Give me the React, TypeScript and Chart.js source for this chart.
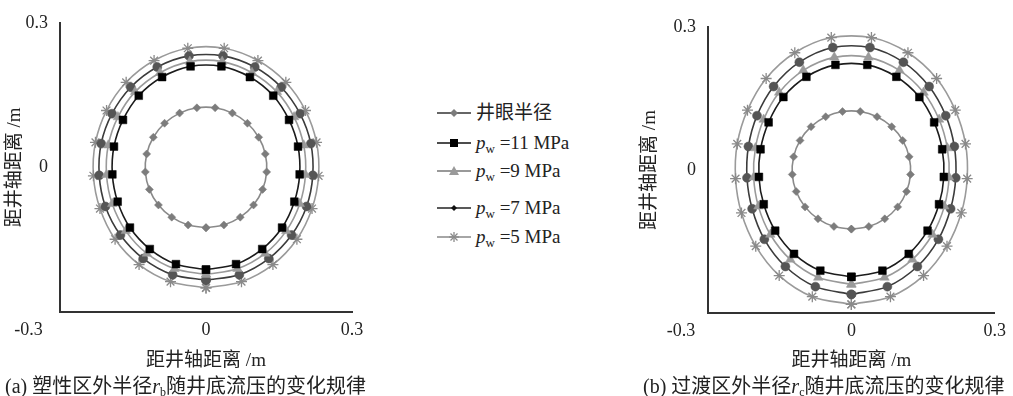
import React, { useEffect, useRef } from "react";
import { Chart, registerables } from "chart.js";

Chart.register(...registerables);

// ---------- data ----------
// angle of each sampled point, measured from the bottom of the hole (deg)
const ANGLES_DEG = [0, 17.1, 34.3, 51.4, 68.6, 85.7, 102.9, 120, 137.1, 154.3, 171.4, 188.6, 205.7, 222.9, 240, 257.1, 274.3, 291.4, 308.6, 325.7, 342.9, 360];

// (a) plastic zone outer radius r_b (m)
const A_BORE = [0.125, 0.125, 0.125, 0.125, 0.125, 0.125, 0.125, 0.125, 0.125, 0.125, 0.125, 0.125, 0.125, 0.125, 0.125, 0.125, 0.125, 0.125, 0.125, 0.125, 0.125, 0.125];
const A_P11 = [0.212, 0.21, 0.205, 0.2, 0.195, 0.193, 0.194, 0.197, 0.203, 0.208, 0.212, 0.212, 0.208, 0.203, 0.197, 0.194, 0.193, 0.195, 0.2, 0.205, 0.21, 0.212];
const A_P9 = [0.222, 0.22, 0.216, 0.211, 0.207, 0.205, 0.206, 0.209, 0.214, 0.218, 0.222, 0.222, 0.218, 0.214, 0.209, 0.206, 0.205, 0.207, 0.211, 0.216, 0.22, 0.222];
const A_P7 = [0.234, 0.233, 0.229, 0.225, 0.222, 0.22, 0.221, 0.223, 0.227, 0.231, 0.234, 0.234, 0.231, 0.227, 0.223, 0.221, 0.22, 0.222, 0.225, 0.229, 0.233, 0.234];
const A_P5 = [0.25, 0.248, 0.244, 0.239, 0.234, 0.232, 0.233, 0.236, 0.241, 0.246, 0.25, 0.25, 0.246, 0.241, 0.236, 0.233, 0.232, 0.234, 0.239, 0.244, 0.248, 0.25];

// (b) transition zone outer radius r_c (m)
const B_BORE = [0.124, 0.124, 0.124, 0.124, 0.124, 0.124, 0.124, 0.124, 0.124, 0.124, 0.124, 0.124, 0.124, 0.124, 0.124, 0.124, 0.124, 0.124, 0.124, 0.124, 0.124, 0.124];
const B_P11 = [0.224, 0.221, 0.213, 0.204, 0.197, 0.194, 0.195, 0.2, 0.209, 0.217, 0.223, 0.223, 0.217, 0.209, 0.2, 0.195, 0.194, 0.197, 0.204, 0.213, 0.221, 0.224];
const B_P9 = [0.24, 0.236, 0.227, 0.217, 0.209, 0.205, 0.206, 0.212, 0.222, 0.232, 0.239, 0.239, 0.232, 0.222, 0.212, 0.206, 0.205, 0.209, 0.217, 0.227, 0.236, 0.24];
const B_P7 = [0.261, 0.256, 0.245, 0.233, 0.223, 0.219, 0.221, 0.228, 0.239, 0.251, 0.26, 0.26, 0.251, 0.239, 0.228, 0.221, 0.219, 0.223, 0.233, 0.245, 0.256, 0.261];
const B_P5 = [0.282, 0.278, 0.268, 0.256, 0.247, 0.243, 0.245, 0.251, 0.262, 0.273, 0.281, 0.281, 0.273, 0.262, 0.251, 0.245, 0.243, 0.247, 0.256, 0.268, 0.278, 0.282];

const SERIES_NAMES = ["井眼半径", "pw=11 MPa", "pw=9 MPa", "pw=7 MPa", "pw=5 MPa"];
const LEGEND_VALUES = ["=11 MPa", "=9 MPa", "=7 MPa", "=5 MPa"];
const TICK_VALUES = [-0.3, 0, 0.3];
const AXIS_MIN = -0.3;
const AXIS_MAX = 0.3;
const AXIS_TITLE = "距井轴距离 /m";

// ---------- styles ----------
const FONT = "'Liberation Serif', 'Times New Roman', 'Noto Sans CJK SC', serif";

const STYLES = [
  { line: "#8a8a8a", fill: "#7c7c7c", point: "rectRot", radius: 4 },
  { line: "#1c1c1c", fill: "#000000", point: "rect", radius: 5.5 },
  { line: "#9a9a9a", fill: "#9a9a9a", point: "triangle", radius: 5.5 },
  { line: "#3c3c3c", fill: "#555555", point: "circle", radius: 4.5 },
  { line: "#9a9a9a", fill: "#8a8a8a", point: "star", radius: 5.5 },
];

function toXY(radii: number[]) {
  return radii.map((r, i) => {
    const t = (ANGLES_DEG[i] * Math.PI) / 180;
    return { x: r * Math.sin(t), y: -r * Math.cos(t) };
  });
}

const fmt = (v: number) => (Math.abs(v) < 1e-9 ? "0" : String(Math.round(v * 10) / 10));

type PanelCfg = {
  left: number;
  width: number;
  yWidth: number;
  xHeight: number;
  padRight: number;
  padTop: number;
  yTitlePad: number;
  minusShift: number;
  series: number[][];
};

const PANEL_A: PanelCfg = {
  left: 0,
  width: 380,
  yWidth: 60,
  xHeight: 84,
  padRight: 28,
  padTop: 19,
  yTitlePad: 4,
  minusShift: 14,
  series: [A_BORE, A_P11, A_P9, A_P7, A_P5],
};

const PANEL_B: PanelCfg = {
  left: 630,
  width: 383,
  yWidth: 78,
  xHeight: 83,
  padRight: 11,
  padTop: 27,
  yTitlePad: 9,
  minusShift: 12,
  series: [B_BORE, B_P11, B_P9, B_P7, B_P5],
};

function Panel({ cfg }: { cfg: PanelCfg }) {
  const ref = useRef<HTMLCanvasElement>(null);
  useEffect(() => {
    const datasets = cfg.series.map((radii, i) => {
      const s = STYLES[i];
      return {
        label: SERIES_NAMES[i],
        data: toXY(radii),
        showLine: true,
        fill: false,
        tension: 0.3,
        borderColor: s.line,
        borderWidth: 1.6,
        pointStyle: s.point as any,
        pointRadius: s.radius,
        pointBackgroundColor: s.fill,
        pointBorderColor: s.fill,
        pointBorderWidth: s.point === "star" ? 1.3 : 0.5,
      };
    });
    const tickFont = { family: FONT, size: 18 };
    const titleFont = { family: FONT, size: 19 };
    const chart = new Chart(ref.current!, {
      type: "scatter",
      data: { datasets },
      options: {
        animation: false,
        responsive: false,
        maintainAspectRatio: false,
        layout: { padding: { left: 0, right: cfg.padRight, top: cfg.padTop, bottom: 0 } },
        plugins: { legend: { display: false }, tooltip: { enabled: false } },
        scales: {
          x: {
            type: "linear",
            min: AXIS_MIN,
            max: AXIS_MAX,
            afterBuildTicks: (s: any) => {
              s.ticks = TICK_VALUES.map((v) => ({ value: v }));
            },
            afterFit: (s: any) => {
              s.height = cfg.xHeight;
            },
            grid: { display: false, drawTicks: false },
            border: { display: true, color: "#333", width: 2 },
            ticks: {
              padding: 7,
              autoSkip: false,
              maxRotation: 0,
              minRotation: 0,
              color: "#222",
              font: tickFont,
              callback: (v: any) => (v < -0.29 ? fmt(v) + " ".repeat(cfg.minusShift) : fmt(v)),
            },
            title: {
              display: true,
              text: AXIS_TITLE,
              color: "#222",
              font: titleFont,
              padding: { top: 0, bottom: 24 },
            },
          },
          y: {
            type: "linear",
            min: AXIS_MIN,
            max: AXIS_MAX,
            afterBuildTicks: (s: any) => {
              s.ticks = TICK_VALUES.map((v) => ({ value: v }));
            },
            afterFit: (s: any) => {
              s.width = cfg.yWidth;
            },
            grid: { display: false, drawTicks: false },
            border: { display: true, color: "#333", width: 2 },
            ticks: {
              padding: 12,
              autoSkip: false,
              color: "#222",
              font: tickFont,
              callback: (v: any) => (v < -0.29 ? "" : fmt(v)),
            },
            title: {
              display: true,
              text: AXIS_TITLE,
              color: "#222",
              font: titleFont,
              padding: { top: cfg.yTitlePad, bottom: 0 },
            },
          },
        },
      } as any,
    });
    return () => chart.destroy();
  }, [cfg]);
  return (
    <canvas
      ref={ref}
      width={cfg.width}
      height={396}
      style={{ position: "absolute", left: cfg.left, top: 0, width: cfg.width, height: 396 }}
    />
  );
}

function LegendMarker({ idx }: { idx: number }) {
  const lineColors = ["#333", "#111", "#777", "#222", "#888"];
  const c = 17;
  const m = 8;
  let marker: React.ReactNode = null;
  if (idx === 0) marker = <polygon points={`${c},${m - 4} ${c + 4},${m} ${c},${m + 4} ${c - 4},${m}`} fill="#7c7c7c" />;
  if (idx === 1) marker = <rect x={c - 4} y={m - 4} width={8} height={8} fill="#000" />;
  if (idx === 2) marker = <polygon points={`${c},${m - 5} ${c + 5},${m + 4} ${c - 5},${m + 4}`} fill="#9a9a9a" />;
  if (idx === 3) marker = <polygon points={`${c},${m - 3} ${c + 3},${m} ${c},${m + 3} ${c - 3},${m}`} fill="#111" />;
  if (idx === 4)
    marker = (
      <g stroke="#8a8a8a" strokeWidth={1.3}>
        <line x1={c - 5} y1={m} x2={c + 5} y2={m} />
        <line x1={c} y1={m - 5} x2={c} y2={m + 5} />
        <line x1={c - 3.5} y1={m - 3.5} x2={c + 3.5} y2={m + 3.5} />
        <line x1={c - 3.5} y1={m + 3.5} x2={c + 3.5} y2={m - 3.5} />
      </g>
    );
  return (
    <svg width={34} height={16} style={{ position: "absolute", left: 0, top: 3 }}>
      <line x1={0} y1={m} x2={34} y2={m} stroke={lineColors[idx]} strokeWidth={1.5} />
      {marker}
    </svg>
  );
}

function Legend() {
  const rowsY = [113, 143, 171, 208, 237];
  return (
    <div style={{ position: "absolute", left: 437, top: 0 }}>
      {rowsY.map((cy, i) => (
        <div key={i} style={{ position: "absolute", left: 0, top: cy - 11, height: 22, width: 160 }}>
          <LegendMarker idx={i} />
          <div
            style={{
              position: "absolute",
              left: 39,
              top: 0,
              lineHeight: "22px",
              fontSize: 19,
              fontFamily: FONT,
              color: "#222",
              whiteSpace: "nowrap",
            }}
          >
            {i === 0 ? (
              SERIES_NAMES[0]
            ) : (
              <>
                <i>p</i>
                <sub style={{ fontSize: 13, verticalAlign: "-4px", lineHeight: 0 }}>w</sub>
                {" " + LEGEND_VALUES[i - 1]}
              </>
            )}
          </div>
        </div>
      ))}
    </div>
  );
}

function Caption({ left, tag, body1, sub, body2 }: { left: number; tag: string; body1: string; sub: string; body2: string }) {
  return (
    <div
      style={{
        position: "absolute",
        left,
        top: 374,
        lineHeight: "24px",
        fontSize: 20,
        fontFamily: FONT,
        color: "#222",
        whiteSpace: "nowrap",
      }}
    >
      {tag} {body1}
      <i>r</i>
      <sub style={{ fontSize: 12, verticalAlign: "-3px", lineHeight: 0 }}>{sub}</sub>
      {body2}
    </div>
  );
}

export default function App() {
  return (
    <div
      style={{
        position: "absolute",
        left: 0,
        top: 0,
        width: 1013,
        height: 396,
        overflow: "hidden",
        background: "#fff",
      }}
    >
      <Panel cfg={PANEL_A} />
      <Panel cfg={PANEL_B} />
      <Legend />
      <Caption left={5} tag="(a)" body1="塑性区外半径" sub="b" body2="随井底流压的变化规律" />
      <Caption left={643} tag="(b)" body1="过渡区外半径" sub="c" body2="随井底流压的变化规律" />
    </div>
  );
}
